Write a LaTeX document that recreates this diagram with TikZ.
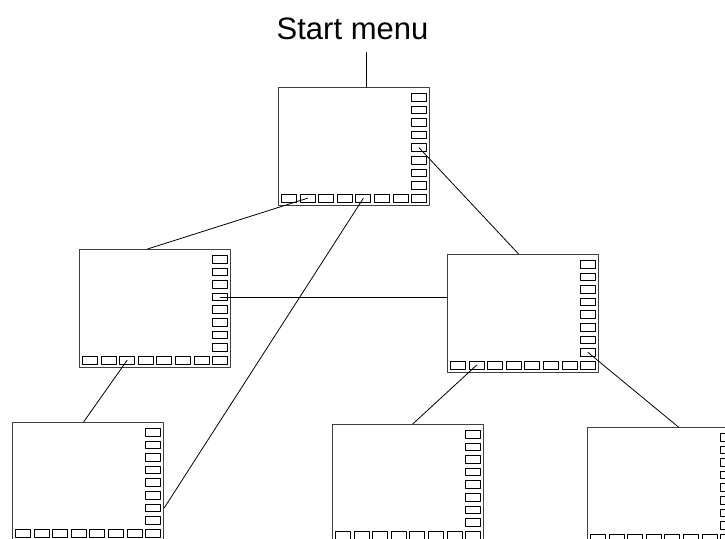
\documentclass[tikz,border=0pt]{standalone}
\usepackage{fontspec}
\setmainfont{Liberation Sans}
\usetikzlibrary{calc}
\tikzset{
  screen/.style={draw=black!75,line width=1.3pt,minimum width=151pt,minimum height=118pt,inner sep=0pt,anchor=north west},
  btn/.style={draw,line width=0.9pt,minimum width=15pt,minimum height=7.5pt,inner sep=0pt,anchor=north west},
  link/.style={line width=0.8pt}
}

\begin{document}
\begin{tikzpicture}[x=1pt,y=-1pt,line cap=round,line join=round]
\useasboundingbox (0,0) rectangle (725,538);
\clip (0,0) rectangle (725,538);
\node[font=\fontsize{31}{34}\selectfont,inner sep=0pt,anchor=base] (title) at (352.5,39.5) {Start menu};
% screens with right column and bottom row of keys
\foreach \s/\px/\py in {s1/278/87,s2/79/249,s3/447/254,s4/12/422,s5/332/424,s6/587/427}{
  \node[screen] (\s) at (\px,\py) {};
  \foreach \k in {1,...,8}{
    \node[btn] (\s-r\k) at ($(\s.north west)+(133,{6+12.6*(\k-1)})$) {};
    \node[btn] (\s-b\k) at ($(\s.north west)+({3+18.6*(\k-1)},107)$) {};
  }
}
\coordinate (s1in) at ($(s1.north west)!0.58!(s1.north east)$);
\draw[link,shorten <=12.5pt] (title.south -| s1in) -- (s1in);
\draw[link] (s1-b2.center) -- ($(s2.north west)!0.45!(s2.north east)$);
\draw[link] (s1-b5.center) -- (s4-r7.center -| s4.east);
\draw[link] (s1-r5.center) -- ($(s3.north west)!0.47!(s3.north east)$);
\draw[link] (s2-r4.center) -- (s2-r4.center -| s3.west);
\draw[link] (s2-b3.center) -- ($(s4.north west)!0.47!(s4.north east)$);
\draw[link] (s3-b2.center) -- ($(s5.north west)!0.53!(s5.north east)$);
\draw[link] (s3-r8.center) -- ($(s6.north west)!0.6!(s6.north east)$);
\end{tikzpicture}
\end{document}
